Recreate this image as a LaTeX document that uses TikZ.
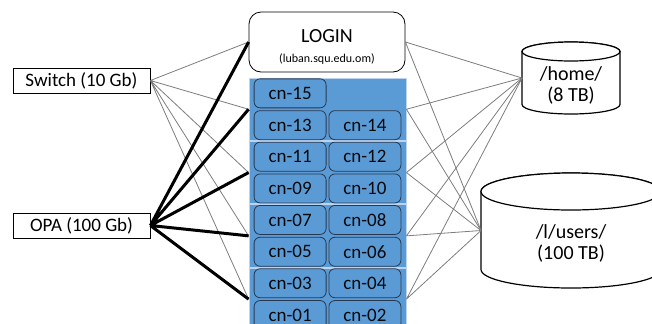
\documentclass[tikz,border=0pt]{standalone}
\usepackage{fontspec}
\setmainfont{Carlito}
\usetikzlibrary{positioning}

\definecolor{nodeblue}{RGB}{91,155,213}
\definecolor{nodeedge}{RGB}{40,56,80}
\definecolor{panelline}{RGB}{190,212,238}
\definecolor{wiregray}{RGB}{125,125,125}

\begin{document}
\begin{tikzpicture}[
  x=0.5pt, y=-0.5pt,
  font=\fontsize{9.5}{11}\selectfont,
  port/.style={draw, fill=white, minimum width=68.5pt, minimum height=12.5pt, inner sep=0pt},
  login/.style={draw, fill=white, rounded corners=6pt, align=center, minimum width=78pt, minimum height=30pt, inner sep=0pt},
  panel/.style={draw=panelline, fill=nodeblue, minimum width=78.5pt, minimum height=31.25pt, inner sep=0pt},
  cn/.style={draw=nodeedge, fill=nodeblue, rounded corners=3pt, minimum width=36pt, minimum height=14.5pt, inner sep=0pt, text=black!85!nodeedge},
  disk/.style={inner sep=0pt, outer sep=0pt},
  disklabel/.style={align=center, font=\fontsize{10}{10.5}\selectfont},
  diskline/.style={draw, fill=white, line width=0.6pt},
  wire/.style={draw=wiregray, line width=0.4pt},
  fatwire/.style={draw=black, line width=1.5pt}
]
\useasboundingbox (0,0) rectangle (652,323);

% network side
\node[port] (sw) at (81.5,80.5) {Switch (10 Gb)};
\node[port] (opa) at (81.5,225.5) {OPA (100 Gb)};

% login node and compute racks
\node[login] (login) at (327,42) {\rule{0pt}{11.5pt}{\fontsize{10}{12}\selectfont LOGIN}\\[-1pt]{\fontsize{6}{7}\selectfont (luban.squ.edu.om)}};
\node[panel] (g1) at (327.5,109.25) {};
\node[panel, below=0pt of g1] (g2) {};
\node[panel, below=0pt of g2] (g3) {};
\node[panel, below=0pt of g3] (g4) {};

\node[cn, above left=0.5pt and 0.5pt of g1.center] (cn15) {cn-15};
\node[cn, below left=0.5pt and 0.5pt of g1.center] (cn13) {cn-13};
\node[cn, below right=0.5pt and 0.5pt of g1.center] (cn14) {cn-14};

\node[cn, above left=0.5pt and 0.5pt of g2.center] (cn11) {cn-11};
\node[cn, above right=0.5pt and 0.5pt of g2.center] (cn12) {cn-12};
\node[cn, below left=0.5pt and 0.5pt of g2.center] (cn09) {cn-09};
\node[cn, below right=0.5pt and 0.5pt of g2.center] (cn10) {cn-10};

\node[cn, above left=0.5pt and 0.5pt of g3.center] (cn07) {cn-07};
\node[cn, above right=0.5pt and 0.5pt of g3.center] (cn08) {cn-08};
\node[cn, below left=0.5pt and 0.5pt of g3.center] (cn05) {cn-05};
\node[cn, below right=0.5pt and 0.5pt of g3.center] (cn06) {cn-06};

\node[cn, above left=0.5pt and 0.5pt of g4.center] (cn03) {cn-03};
\node[cn, above right=0.5pt and 0.5pt of g4.center] (cn04) {cn-04};
\node[cn, below left=0.5pt and 0.5pt of g4.center] (cn01) {cn-01};
\node[cn, below right=0.5pt and 0.5pt of g4.center] (cn02) {cn-02};

% storage (cylinders drawn round the named boxes)
\node[disk, minimum width=49pt, minimum height=36pt] (home) at (571,78) {};
\draw[diskline] ([yshift=-4.75pt]home.north west) -- ([yshift=4.75pt]home.south west)
  arc[start angle=180, end angle=360, x radius=24.5pt, y radius=4.75pt]
  -- ([yshift=-4.75pt]home.north east)
  arc[start angle=0, end angle=180, x radius=24.5pt, y radius=4.75pt] -- cycle;
\draw[diskline] ([yshift=-4.75pt]home.north) ellipse[x radius=24.5pt, y radius=4.75pt];
\node[disklabel, yshift=-3.5pt] at (home.center) {/home/\\(8 TB)};

\node[disk, minimum width=90pt, minimum height=57.5pt] (users) at (571,230.5) {};
\draw[diskline] ([yshift=-9.25pt]users.north west) -- ([yshift=9.25pt]users.south west)
  arc[start angle=180, end angle=360, x radius=45pt, y radius=9.25pt]
  -- ([yshift=-9.25pt]users.north east)
  arc[start angle=0, end angle=180, x radius=45pt, y radius=9.25pt] -- cycle;
\draw[diskline] ([yshift=-9.25pt]users.north) ellipse[x radius=45pt, y radius=9.25pt];
\node[disklabel, yshift=-6.5pt] at (users.center) {/l/users/\\(100 TB)};

% links
\draw[wire] (sw.east) -- (login.west) (sw.east) -- (g1.west) (sw.east) -- (g2.west)
  (sw.east) -- (g3.west) (sw.east) -- (g4.west);
\draw[fatwire] (opa.east) -- (login.west) (opa.east) -- (g1.west) (opa.east) -- (g2.west)
  (opa.east) -- (g3.west) (opa.east) -- (g4.west);
\draw[wire] (login.east) -- (home.west) (login.east) -- (users.west);
\draw[wire] (g1.east) -- (home.west) (g1.east) -- (users.west);
\draw[wire] (g2.east) -- (home.west) (g2.east) -- (users.west);
\draw[wire] (g3.east) -- (home.west) (g3.east) -- (users.west);
\draw[wire] (g4.east) -- (home.west) (g4.east) -- (users.west);
\end{tikzpicture}
\end{document}
